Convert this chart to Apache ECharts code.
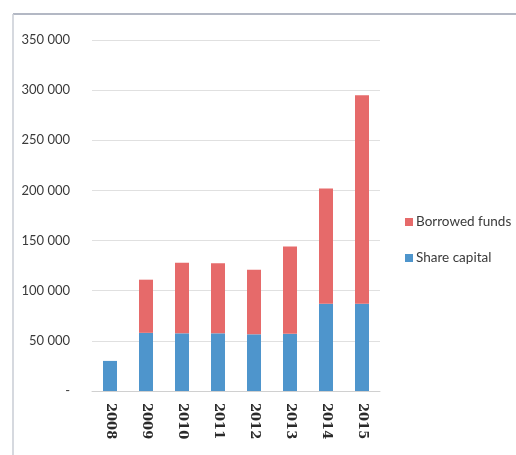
<!DOCTYPE html>
<html><head><meta charset="utf-8">
<script src="https://cdn.jsdelivr.net/npm/echarts@6/dist/echarts.min.js"></script>
<style>html,body{margin:0;padding:0;background:#fff;}#c{width:516px;height:455px;}</style>
</head><body><div id="c"></div>
<script>
var years = ['2008','2009','2010','2011','2012','2013','2014','2015'];
var shareCapital = [30000, 58000, 57500, 57500, 56500, 57000, 87000, 87000];
var borrowedFunds = [0, 53000, 70500, 70000, 64500, 87000, 115000, 208000];
var yTicks = [0, 50000, 100000, 150000, 200000, 250000, 300000, 350000];

var font = 'Lato, "Open Sans", sans-serif';
function fmt(v){ if (v === 0) return '-'; return String(v).replace(/\B(?=(\d{3})+(?!\d))/g, ' '); }

var chart = echarts.init(document.getElementById('c'));
chart.setOption({
  animation: false,
  backgroundColor: '#fff',
  graphic: [
    {type:'line', shape:{x1:13,y1:14,x2:516,y2:14}, style:{stroke:'#9aa0b0', lineWidth:1.5}},
    {type:'line', shape:{x1:13,y1:14,x2:13,y2:455}, style:{stroke:'#c8ccd4', lineWidth:1.5}}
  ],
  grid: {left: 92, right: 136, top: 40, bottom: 64},
  legend: {
    orient: 'vertical', left: 400, top: 210, itemWidth: 8, itemHeight: 8, itemGap: 22,
    icon: 'rect',
    textStyle: {fontFamily: font, fontSize: 13.5, color: '#3a3a3a', padding:[0,0,0,-2]},
    data: ['Borrowed funds', 'Share capital']
  },
  xAxis: {
    type: 'category', data: years,
    axisLine: {lineStyle: {color: '#d0d0d0'}},
    axisTick: {show: false},
    axisLabel: {rotate: -90, fontFamily: '"DejaVu Serif", serif', fontWeight: 'bold', fontSize: 13, color: '#2a2a2a', margin: 12}
  },
  yAxis: {
    type: 'value', min: yTicks[0], max: yTicks[yTicks.length-1], interval: 50000,
    axisLine: {show: false}, axisTick: {show: false},
    splitLine: {lineStyle: {color: '#e0e0e0'}},
    axisLabel: {formatter: fmt, fontFamily: font, fontSize: 13, color: '#3a3a3a', margin: 22}
  },
  series: [
    {name: 'Share capital', type: 'bar', stack: 't', data: shareCapital, barWidth: 14, itemStyle: {color: '#4e95cc'}},
    {name: 'Borrowed funds', type: 'bar', stack: 't', data: borrowedFunds, barWidth: 14, itemStyle: {color: '#e66a6a'}}
  ]
});
</script></body></html>
